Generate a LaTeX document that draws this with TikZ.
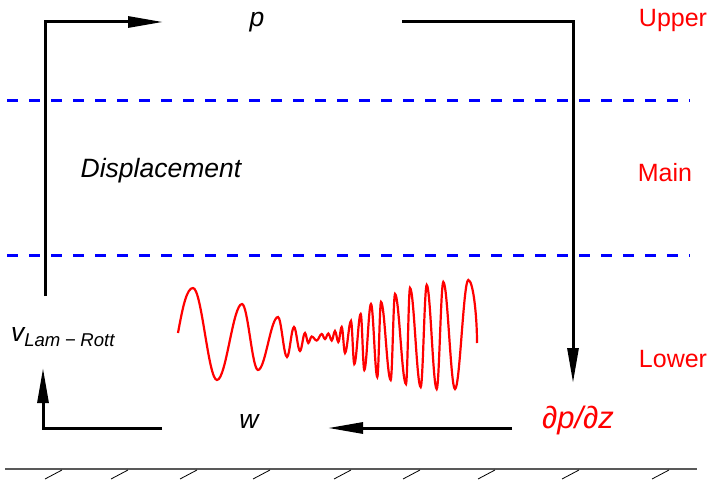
\documentclass[tikz,border=0pt]{standalone}
\usepackage{fontspec}
\setmainfont{Liberation Sans}
\usetikzlibrary{arrows.meta}

\begin{document}
\begin{tikzpicture}[
    x=1pt, y=-1pt,
    font=\fontsize{25}{30}\selectfont,
    % Define specific styles
    var_text/.style={font=\fontsize{26.5}{31}\selectfont\itshape, inner sep=0pt},
    layer_text/.style={text=red, inner sep=0pt},
    flow/.style={-{Triangle[length=35pt,width=11pt]}, line width=3pt, draw=black},
    layer_line/.style={draw=blue, line width=3pt, dash pattern=on 11pt off 11pt},
    wave/.style={draw=red, line width=2.2pt},
    ground/.style={draw=black!65, line width=1.6pt},
    hatch/.style={draw=black, line width=0.8pt},
]
\useasboundingbox (0,0) rectangle (711,481);

% Layer boundaries
\draw[layer_line] (7,101) -- (690,101);
\draw[layer_line] (7,255) -- (690,255);

% Labels
\node[var_text] (p) at (257,22) {p};
\node[var_text] (disp) at (161,171) {Displacement};
\node[var_text] (vlr) at (63,337) {v\textsubscript{Lam\hspace{0.25em}−\hspace{0.25em}Rott}};
\node[var_text] (w) at (249,421) {w};
\node[var_text, font=\fontsize{31}{36}\selectfont\itshape, text=red] (dpdz) at (578,420) {∂p/∂z};

\node[layer_text] (upper) at (673,20) {Upper};
\node[layer_text] (main) at (665,173) {Main};
\node[layer_text] (lower) at (673,359) {Lower};

% Free ends of the circulation arrows
\coordinate (vout) at (45,296);
\coordinate (pin) at (163,22);
\coordinate (pout) at (402,22);
\coordinate (dpin) at (573,383);
\coordinate (dpout) at (512,428);
\coordinate (win) at (328,428);
\coordinate (wout) at (162,428);
\coordinate (vin) at (43,368);

% Connections
\draw[flow] (vout) |- (pin);
\draw[flow] (pout) -| (dpin);
\draw[flow] (dpout) -- (win);
\draw[flow] (wout) -| (vin);

% Wave packet
\draw[wave] (178,333) .. controls (183,305) and (187,288) .. (193,288)
  \foreach \x/\y [remember=\x as \lx (initially 193), remember=\y as \ly (initially 288)] in
  {217/380, 242/304, 258/370, 278/317, 287/357, 294/327, 300/351, 305/333,
   308.3/343, 311.7/336.5, 316.7/340.5, 321.7/334, 325/339, 328.3/333.5,
   331.7/340.5, 335/331, 338.3/342, 341.7/327, 345/353, 351/321, 354.3/364,
   360.7/314, 364.3/370, 371/304, 377.3/377, 381/302, 390.7/380, 395/294,
   406/384, 410/288, 420.7/387, 426.7/285, 436.7/389, 443.3/282, 455/389,
   468.3/280}
  { .. controls ({\lx+0.3634*(\x-\lx)},\ly) and ({\x-0.3634*(\x-\lx)},\y) .. (\x,\y) }
  .. controls (473,280) and (477,315) .. (477,343);

% Ground
\draw[ground] (5,469) -- (697,469);
\foreach \hx in {45,111,180,253,334,403,478,562,652}
  \draw[hatch] (\hx,479) -- ++(17,-9);

\end{tikzpicture}
\end{document}
